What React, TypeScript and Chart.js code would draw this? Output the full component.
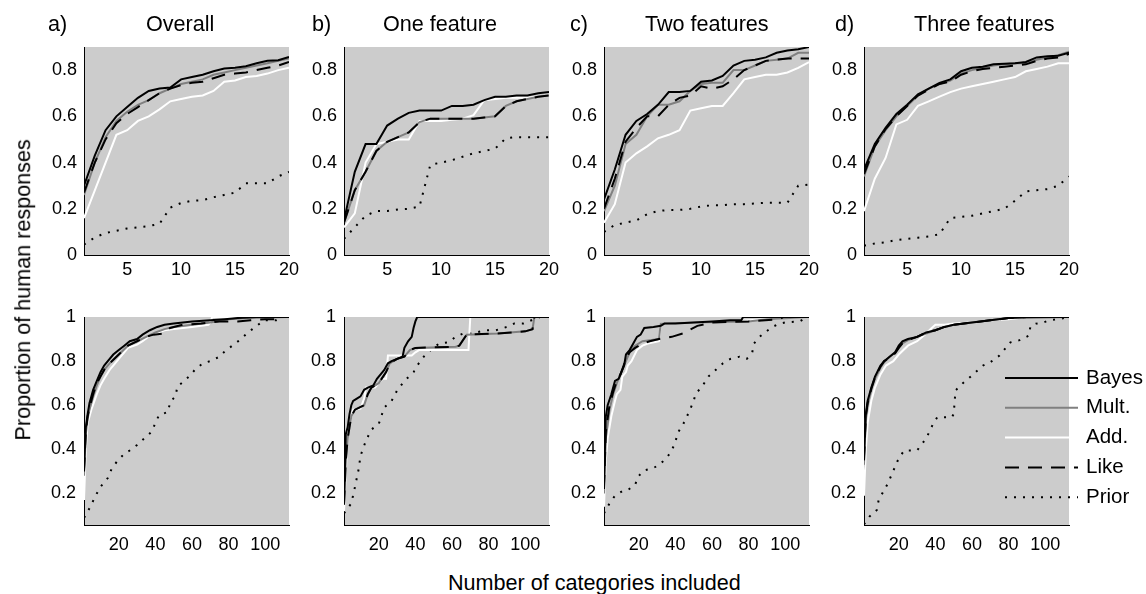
import React, { useEffect, useRef } from "react";
import { Chart, registerables } from "chart.js";
Chart.register(...registerables);

const FONT = "'Liberation Sans', Arial, Helvetica, sans-serif";

// ---------- data ----------
const X_TOP = [1, 2, 3, 4, 5, 6, 7, 8, 9, 10, 11, 12, 13, 14, 15, 16, 17, 18, 19, 20];

const TOP_A_BAYES = [0.30, 0.43, 0.54, 0.60, 0.64, 0.68, 0.71, 0.72, 0.725, 0.76, 0.77, 0.78, 0.795, 0.807, 0.81, 0.817, 0.83, 0.84, 0.843, 0.857];
const TOP_A_MULT = [0.26, 0.40, 0.51, 0.58, 0.62, 0.65, 0.67, 0.70, 0.72, 0.74, 0.75, 0.76, 0.78, 0.79, 0.80, 0.81, 0.82, 0.83, 0.84, 0.85];
const TOP_A_ADD = [0.16, 0.28, 0.40, 0.52, 0.54, 0.58, 0.60, 0.63, 0.665, 0.675, 0.685, 0.69, 0.71, 0.75, 0.755, 0.77, 0.775, 0.785, 0.80, 0.81];
const TOP_A_LIKE = [0.27, 0.40, 0.50, 0.57, 0.61, 0.64, 0.67, 0.70, 0.72, 0.735, 0.745, 0.75, 0.765, 0.78, 0.785, 0.79, 0.80, 0.81, 0.82, 0.835];
const TOP_A_PRIOR = [0.045, 0.076, 0.095, 0.105, 0.115, 0.12, 0.125, 0.135, 0.205, 0.225, 0.235, 0.237, 0.25, 0.26, 0.27, 0.31, 0.31, 0.31, 0.34, 0.36];

const TOP_B_BAYES = [0.15, 0.36, 0.48, 0.48, 0.56, 0.59, 0.615, 0.625, 0.625, 0.625, 0.645, 0.645, 0.65, 0.67, 0.685, 0.685, 0.69, 0.69, 0.70, 0.705];
const TOP_B_MULT = [0.14, 0.28, 0.36, 0.45, 0.49, 0.51, 0.53, 0.575, 0.59, 0.59, 0.59, 0.59, 0.59, 0.595, 0.60, 0.645, 0.665, 0.675, 0.685, 0.69];
const TOP_B_ADD = [0.12, 0.18, 0.40, 0.48, 0.49, 0.50, 0.50, 0.58, 0.58, 0.58, 0.585, 0.59, 0.605, 0.67, 0.675, 0.68, 0.68, 0.68, 0.685, 0.69];
const TOP_B_LIKE = [0.14, 0.28, 0.36, 0.45, 0.49, 0.51, 0.53, 0.575, 0.59, 0.59, 0.59, 0.59, 0.59, 0.595, 0.60, 0.645, 0.665, 0.675, 0.685, 0.69];
const TOP_B_PRIOR = [0.07, 0.12, 0.17, 0.19, 0.19, 0.197, 0.20, 0.21, 0.39, 0.40, 0.41, 0.425, 0.44, 0.45, 0.46, 0.505, 0.51, 0.51, 0.51, 0.51];

const TOP_C_BAYES = [0.24, 0.37, 0.52, 0.58, 0.61, 0.65, 0.705, 0.705, 0.71, 0.75, 0.755, 0.775, 0.82, 0.84, 0.845, 0.855, 0.875, 0.885, 0.89, 0.90];
const TOP_C_MULT = [0.19, 0.30, 0.48, 0.52, 0.60, 0.65, 0.65, 0.665, 0.71, 0.74, 0.745, 0.745, 0.80, 0.80, 0.82, 0.84, 0.845, 0.85, 0.875, 0.875];
const TOP_C_ADD = [0.14, 0.22, 0.40, 0.44, 0.47, 0.505, 0.52, 0.54, 0.625, 0.635, 0.645, 0.645, 0.70, 0.76, 0.77, 0.78, 0.78, 0.79, 0.81, 0.835];
const TOP_C_LIKE = [0.20, 0.33, 0.49, 0.55, 0.60, 0.60, 0.65, 0.68, 0.69, 0.73, 0.72, 0.73, 0.76, 0.80, 0.82, 0.84, 0.845, 0.85, 0.85, 0.85];
const TOP_C_PRIOR = [0.10, 0.13, 0.14, 0.15, 0.177, 0.19, 0.195, 0.195, 0.20, 0.21, 0.215, 0.215, 0.22, 0.22, 0.223, 0.226, 0.226, 0.226, 0.30, 0.305];

const TOP_D_BAYES = [0.37, 0.48, 0.55, 0.61, 0.65, 0.695, 0.72, 0.745, 0.76, 0.795, 0.81, 0.815, 0.825, 0.828, 0.83, 0.835, 0.855, 0.86, 0.862, 0.875];
const TOP_D_MULT = [0.34, 0.47, 0.54, 0.60, 0.645, 0.69, 0.72, 0.74, 0.755, 0.785, 0.80, 0.81, 0.82, 0.825, 0.83, 0.83, 0.845, 0.855, 0.865, 0.88];
const TOP_D_ADD = [0.19, 0.33, 0.42, 0.565, 0.585, 0.645, 0.665, 0.685, 0.705, 0.72, 0.73, 0.74, 0.75, 0.76, 0.77, 0.795, 0.805, 0.815, 0.83, 0.83];
const TOP_D_LIKE = [0.35, 0.47, 0.545, 0.60, 0.645, 0.69, 0.715, 0.74, 0.75, 0.78, 0.795, 0.805, 0.81, 0.815, 0.82, 0.825, 0.84, 0.85, 0.855, 0.87];
const TOP_D_PRIOR = [0.04, 0.05, 0.055, 0.065, 0.07, 0.075, 0.08, 0.09, 0.16, 0.165, 0.17, 0.18, 0.19, 0.20, 0.235, 0.275, 0.28, 0.285, 0.30, 0.34];

// bottom row: [number of categories, proportion]
const BOT_A_BAYES = [[1, 0.31], [2, 0.50], [3, 0.56], [4, 0.61], [5, 0.64], [6, 0.67], [8, 0.71], [10, 0.75], [12, 0.78], [14, 0.80], [17, 0.83], [20, 0.85], [23, 0.87], [26, 0.89], [30, 0.90], [33, 0.92], [37, 0.94], [41, 0.955], [45, 0.965], [50, 0.97], [55, 0.975], [60, 0.98], [70, 0.985], [78, 0.99], [85, 0.995], [95, 1.0], [113, 1.0]];
const BOT_A_MULT = [[1, 0.28], [2, 0.47], [3, 0.54], [4, 0.58], [6, 0.64], [8, 0.69], [10, 0.73], [12, 0.76], [15, 0.79], [20, 0.83], [25, 0.87], [30, 0.89], [35, 0.91], [40, 0.93], [45, 0.945], [50, 0.955], [60, 0.965], [70, 0.975], [80, 0.99], [90, 0.995], [113, 1.0]];
const BOT_A_ADD = [[1, 0.17], [2, 0.40], [3, 0.52], [5, 0.58], [8, 0.65], [10, 0.69], [12, 0.72], [15, 0.76], [18, 0.79], [20, 0.81], [23, 0.84], [25, 0.86], [30, 0.875], [33, 0.89], [36, 0.91], [40, 0.925], [45, 0.94], [50, 0.945], [60, 0.955], [69, 0.965], [70, 0.975], [71, 1.0], [113, 1.0]];
const BOT_A_LIKE = [[1, 0.30], [2, 0.48], [3, 0.55], [4, 0.59], [6, 0.65], [8, 0.70], [10, 0.73], [12, 0.76], [15, 0.79], [20, 0.83], [25, 0.87], [30, 0.89], [35, 0.91], [39, 0.92], [44, 0.925], [48, 0.95], [55, 0.965], [65, 0.97], [75, 0.98], [85, 0.98], [92, 0.985], [100, 0.99], [106, 0.99], [108, 1.0], [113, 1.0]];
const BOT_A_PRIOR = [[1, 0.09], [2, 0.10], [5, 0.15], [8, 0.20], [10, 0.23], [14, 0.27], [16, 0.31], [19, 0.345], [23, 0.38], [27, 0.40], [30, 0.42], [34, 0.45], [38, 0.48], [40, 0.52], [42, 0.555], [47, 0.57], [48, 0.615], [51, 0.64], [52, 0.685], [55, 0.705], [59, 0.735], [62, 0.765], [66, 0.79], [70, 0.80], [75, 0.82], [78, 0.845], [82, 0.87], [86, 0.895], [90, 0.925], [93, 0.945], [97, 0.97], [100, 0.985], [106, 0.985], [110, 1.0], [113, 1.0]];

const BOT_B_BAYES = [[1, 0.15], [2, 0.47], [3, 0.50], [4, 0.56], [5, 0.60], [6, 0.62], [8, 0.63], [10, 0.64], [12, 0.67], [14, 0.68], [17, 0.69], [19, 0.72], [21, 0.74], [23, 0.76], [25, 0.79], [27, 0.80], [30, 0.81], [33, 0.82], [34, 0.86], [36, 0.89], [38, 0.91], [39, 0.95], [40, 0.98], [41, 1.0], [113, 1.0]];
const BOT_B_MULT = [[1, 0.15], [2, 0.35], [3, 0.45], [5, 0.55], [7, 0.58], [12, 0.60], [14, 0.65], [16, 0.68], [20, 0.70], [24, 0.75], [26, 0.79], [30, 0.81], [34, 0.82], [37, 0.85], [40, 0.86], [62, 0.865], [64, 0.87], [68, 0.92], [85, 0.925], [100, 0.935], [104, 0.945], [105, 1.0], [113, 1.0]];
const BOT_B_ADD = [[1, 0.12], [2, 0.30], [3, 0.48], [4, 0.50], [5, 0.55], [6, 0.58], [10, 0.585], [12, 0.63], [13, 0.68], [18, 0.68], [20, 0.70], [22, 0.72], [24, 0.72], [25, 0.825], [38, 0.825], [40, 0.84], [42, 0.85], [69, 0.85], [70, 1.0], [113, 1.0]];
const BOT_B_LIKE = [[1, 0.15], [2, 0.35], [3, 0.45], [5, 0.55], [7, 0.58], [12, 0.60], [14, 0.65], [16, 0.68], [20, 0.70], [24, 0.75], [26, 0.79], [30, 0.81], [34, 0.82], [37, 0.85], [40, 0.86], [62, 0.865], [64, 0.87], [68, 0.92], [85, 0.925], [100, 0.935], [104, 0.945], [105, 1.0], [113, 1.0]];
const BOT_B_PRIOR = [[1, 0.11], [5, 0.155], [7, 0.23], [9, 0.31], [10, 0.37], [13, 0.44], [16, 0.49], [20, 0.515], [23, 0.59], [27, 0.62], [30, 0.667], [34, 0.71], [39, 0.75], [41, 0.78], [45, 0.825], [49, 0.855], [53, 0.88], [58, 0.885], [62, 0.91], [66, 0.925], [70, 0.925], [73, 0.93], [79, 0.94], [84, 0.94], [90, 0.955], [94, 0.97], [99, 0.97], [104, 0.987], [108, 1.0], [113, 1.0]];

const BOT_C_BAYES = [[1, 0.24], [2, 0.55], [3, 0.60], [5, 0.65], [7, 0.71], [9, 0.72], [10, 0.74], [12, 0.78], [13, 0.83], [15, 0.85], [17, 0.88], [19, 0.91], [21, 0.92], [23, 0.95], [28, 0.955], [32, 0.96], [34, 0.97], [40, 0.97], [50, 0.975], [60, 0.98], [70, 0.985], [76, 0.985], [77, 1.0], [113, 1.0]];
const BOT_C_MULT = [[1, 0.20], [2, 0.45], [4, 0.58], [6, 0.65], [8, 0.70], [10, 0.74], [13, 0.80], [15, 0.84], [18, 0.87], [22, 0.89], [26, 0.895], [31, 0.90], [32, 0.97], [50, 0.975], [80, 0.98], [90, 0.99], [113, 1.0]];
const BOT_C_ADD = [[1, 0.14], [2, 0.35], [3, 0.45], [5, 0.55], [7, 0.62], [8, 0.65], [10, 0.67], [11, 0.73], [13, 0.75], [14, 0.78], [16, 0.80], [19, 0.85], [22, 0.87], [25, 0.88], [31, 0.89], [32, 0.97], [50, 0.975], [70, 0.98], [80, 0.985], [90, 0.99], [100, 0.995], [113, 1.0]];
const BOT_C_LIKE = [[1, 0.22], [2, 0.48], [4, 0.60], [6, 0.66], [8, 0.71], [10, 0.74], [13, 0.81], [15, 0.84], [18, 0.86], [22, 0.88], [26, 0.89], [31, 0.90], [38, 0.91], [44, 0.925], [52, 0.96], [60, 0.975], [80, 0.98], [97, 0.99], [99, 1.0], [113, 1.0]];
const BOT_C_PRIOR = [[1, 0.11], [4, 0.155], [7, 0.19], [11, 0.21], [14, 0.215], [18, 0.24], [20, 0.28], [23, 0.305], [28, 0.315], [32, 0.335], [37, 0.38], [40, 0.43], [41, 0.47], [45, 0.525], [48, 0.58], [50, 0.62], [51, 0.65], [55, 0.69], [58, 0.73], [62, 0.76], [66, 0.79], [70, 0.81], [75, 0.82], [79, 0.81], [82, 0.84], [83, 0.88], [86, 0.91], [89, 0.93], [93, 0.955], [97, 0.97], [100, 0.975], [108, 0.98], [112, 1.0], [113, 1.0]];

const BOT_D_BAYES = [[1, 0.37], [2, 0.56], [3, 0.62], [5, 0.68], [7, 0.73], [10, 0.78], [12, 0.80], [15, 0.82], [18, 0.84], [20, 0.87], [22, 0.89], [25, 0.90], [30, 0.91], [35, 0.93], [40, 0.94], [45, 0.955], [50, 0.965], [60, 0.975], [70, 0.985], [80, 0.995], [90, 1.0], [113, 1.0]];
const BOT_D_MULT = [[1, 0.33], [2, 0.54], [3, 0.60], [5, 0.67], [7, 0.72], [10, 0.77], [12, 0.795], [15, 0.82], [18, 0.84], [20, 0.86], [22, 0.88], [25, 0.895], [30, 0.91], [35, 0.925], [40, 0.94], [45, 0.955], [50, 0.965], [60, 0.975], [70, 0.985], [80, 0.995], [90, 0.995], [113, 1.0]];
const BOT_D_ADD = [[1, 0.19], [2, 0.40], [3, 0.52], [5, 0.62], [7, 0.68], [10, 0.74], [13, 0.78], [17, 0.80], [20, 0.83], [25, 0.87], [30, 0.89], [35, 0.925], [38, 0.95], [40, 0.965], [45, 0.965], [50, 0.97], [60, 0.975], [70, 0.985], [80, 0.99], [90, 1.0], [113, 1.0]];
const BOT_D_LIKE = [[1, 0.35], [2, 0.55], [3, 0.61], [5, 0.675], [7, 0.725], [10, 0.775], [12, 0.80], [15, 0.815], [18, 0.835], [20, 0.86], [22, 0.88], [25, 0.895], [30, 0.91], [35, 0.93], [40, 0.94], [45, 0.955], [50, 0.965], [60, 0.975], [70, 0.985], [80, 0.995], [90, 1.0], [113, 1.0]];
const BOT_D_PRIOR = [[1, 0.06], [4, 0.095], [8, 0.125], [9, 0.17], [14, 0.245], [20, 0.36], [23, 0.395], [30, 0.395], [35, 0.45], [39, 0.52], [41, 0.545], [49, 0.545], [50, 0.56], [51, 0.667], [55, 0.70], [60, 0.735], [66, 0.78], [70, 0.795], [75, 0.825], [78, 0.855], [81, 0.885], [86, 0.895], [91, 0.915], [92, 0.96], [95, 0.97], [99, 0.975], [102, 0.985], [107, 0.99], [113, 1.0]];

const SERIES_NAMES = ["Bayes", "Mult.", "Add.", "Like", "Prior"];
const PANEL_LETTERS = ["a)", "b)", "c)", "d)"];
const PANEL_TITLES = ["Overall", "One feature", "Two features", "Three features"];
const TOP_X_TICKS = [5, 10, 15, 20];
const TOP_Y_TICKS = [0, 0.2, 0.4, 0.6, 0.8];
const BOT_X_TICKS = [20, 40, 60, 80, 100];
const BOT_Y_TICKS = [0.2, 0.4, 0.6, 0.8, 1];
const Y_LABEL = "Proportion of human responses";
const X_LABEL = "Number of categories included";

// ---------- styling / layout ----------
const SERIES_STYLE = [
  { color: "#000000", width: 2, dash: [] as number[], order: 0 },
  { color: "#808080", width: 2, dash: [] as number[], order: 2 },
  { color: "#ffffff", width: 2, dash: [] as number[], order: 3 },
  { color: "#000000", width: 2, dash: [14, 9], order: 1 },
  { color: "#000000", width: 2, dash: [2, 7], order: 4 },
];

const COL_LEFT = [84, 344, 604, 864];
const ROW_TOP = [47, 317];
const PLOT_W = 205;
const PLOT_H = 208;
const PAD_L = 60;
const PAD_T = 20;
const PAD_B = 40;

const topSeries = (arrs: number[][]) =>
  arrs.map((a) => a.map((y, i) => ({ x: X_TOP[i], y })));
const botSeries = (arrs: number[][][]) =>
  arrs.map((a) => a.map(([x, y]) => ({ x, y })));

const bgPlugin = {
  id: "axesBg",
  beforeDraw(chart: any) {
    const { ctx, chartArea: a } = chart;
    ctx.save();
    ctx.fillStyle = "#cccccc";
    ctx.fillRect(a.left, a.top, a.right - a.left, a.bottom - a.top);
    ctx.restore();
  },
};

const legendPlugin = {
  id: "matlabLegend",
  afterDraw(chart: any) {
    const { ctx, chartArea: a } = chart;
    ctx.save();
    chart.data.datasets.forEach((ds: any, i: number) => {
      const y = a.top + 61 + 29.8 * i;
      ctx.strokeStyle = ds.borderColor;
      ctx.lineWidth = ds.borderWidth;
      ctx.setLineDash(ds.borderDash || []);
      ctx.beginPath();
      ctx.moveTo(a.left + 141, y);
      ctx.lineTo(a.left + 214, y);
      ctx.stroke();
      ctx.setLineDash([]);
      ctx.fillStyle = "#000000";
      ctx.font = `20.5px ${FONT}`;
      ctx.textAlign = "left";
      ctx.textBaseline = "middle";
      ctx.fillText(ds.label, a.left + 222, y);
    });
    ctx.restore();
  },
};

type PanelProps = {
  col: number;
  row: number;
  series: { x: number; y: number }[][];
  padR: number;
  legend?: boolean;
};

function Panel({ col, row, series, padR, legend }: PanelProps) {
  const ref = useRef<HTMLCanvasElement>(null);
  const width = PAD_L + PLOT_W + padR;
  const height = PAD_T + PLOT_H + PAD_B;
  const left = COL_LEFT[col] - PAD_L;
  const top = ROW_TOP[row] - PAD_T;
  useEffect(() => {
    const isTop = row === 0;
    const xTicks = isTop ? TOP_X_TICKS : BOT_X_TICKS;
    const yTicks = isTop ? TOP_Y_TICKS : BOT_Y_TICKS;
    const chart = new Chart(ref.current as HTMLCanvasElement, {
      type: "line",
      data: {
        datasets: series.map((pts, i) => ({
          label: SERIES_NAMES[i],
          data: pts,
          borderColor: SERIES_STYLE[i].color,
          borderWidth: SERIES_STYLE[i].width,
          borderDash: SERIES_STYLE[i].dash,
          order: SERIES_STYLE[i].order,
          pointRadius: 0,
          pointHoverRadius: 0,
          tension: 0,
          fill: false,
        })),
      },
      options: {
        animation: false,
        responsive: false,
        maintainAspectRatio: false,
        devicePixelRatio: 1,
        events: [],
        layout: { padding: { left: 0, top: PAD_T, right: padR, bottom: 0 } },
        plugins: {
          legend: { display: false },
          tooltip: { enabled: false },
          title: { display: false },
        },
        scales: {
          x: {
            type: "linear",
            min: 1,
            max: isTop ? 20 : 113,
            afterFit: (s: any) => {
              s.height = PAD_B;
            },
            afterBuildTicks: (s: any) => {
              s.ticks = xTicks.map((v) => ({ value: v }));
            },
            grid: { display: false, drawTicks: false },
            border: { display: true, color: "#000000", width: 1 },
            ticks: {
              padding: isTop ? 4 : 9,
              color: "#000000",
              font: { family: FONT, size: 18 },
              maxRotation: 0,
              autoSkip: false,
              callback: (v: any) => String(v),
            },
          },
          y: {
            type: "linear",
            min: isTop ? 0 : 0.057,
            max: isTop ? 0.9 : 1,
            afterFit: (s: any) => {
              s.width = PAD_L;
            },
            afterBuildTicks: (s: any) => {
              s.ticks = yTicks.map((v) => ({ value: v }));
            },
            grid: { display: false, drawTicks: false },
            border: { display: true, color: "#000000", width: 1 },
            ticks: {
              padding: isTop ? 7 : 8,
              color: "#000000",
              font: { family: FONT, size: 18 },
              autoSkip: false,
              callback: (v: any) => String(v),
            },
          },
        },
      },
      plugins: legend ? [bgPlugin, legendPlugin] : [bgPlugin],
    } as any);
    return () => chart.destroy();
  }, []);
  return (
    <canvas
      ref={ref}
      width={width}
      height={height}
      style={{ position: "absolute", left, top, width, height }}
    />
  );
}

function Txt({ left, top, size, children }: { left: number; top: number; size: number; children: any }) {
  return (
    <div
      style={{
        position: "absolute",
        left,
        top,
        fontFamily: FONT,
        fontSize: size,
        lineHeight: `${size}px`,
        whiteSpace: "nowrap",
        color: "#000",
      }}
    >
      {children}
    </div>
  );
}

const LETTER_LEFT = [48, 312, 570, 835];
const TITLE_LEFT = [146, 383, 645, 914];

export default function App() {
  const top = [
    topSeries([TOP_A_BAYES, TOP_A_MULT, TOP_A_ADD, TOP_A_LIKE, TOP_A_PRIOR]),
    topSeries([TOP_B_BAYES, TOP_B_MULT, TOP_B_ADD, TOP_B_LIKE, TOP_B_PRIOR]),
    topSeries([TOP_C_BAYES, TOP_C_MULT, TOP_C_ADD, TOP_C_LIKE, TOP_C_PRIOR]),
    topSeries([TOP_D_BAYES, TOP_D_MULT, TOP_D_ADD, TOP_D_LIKE, TOP_D_PRIOR]),
  ];
  const bot = [
    botSeries([BOT_A_BAYES, BOT_A_MULT, BOT_A_ADD, BOT_A_LIKE, BOT_A_PRIOR]),
    botSeries([BOT_B_BAYES, BOT_B_MULT, BOT_B_ADD, BOT_B_LIKE, BOT_B_PRIOR]),
    botSeries([BOT_C_BAYES, BOT_C_MULT, BOT_C_ADD, BOT_C_LIKE, BOT_C_PRIOR]),
    botSeries([BOT_D_BAYES, BOT_D_MULT, BOT_D_ADD, BOT_D_LIKE, BOT_D_PRIOR]),
  ];
  return (
    <div style={{ position: "absolute", left: 0, top: 0, width: 1146, height: 594, background: "#ffffff", overflow: "hidden" }}>
      {top.map((s, i) => (
        <Panel key={"t" + i} col={i} row={0} series={s} padR={20} />
      ))}
      {bot.map((s, i) => (
        <Panel key={"b" + i} col={i} row={1} series={s} padR={i === 3 ? 77 : 20} legend={i === 3} />
      ))}
      {PANEL_LETTERS.map((l, i) => (
        <Txt key={"l" + i} left={LETTER_LEFT[i]} top={13.2} size={21.6}>
          {l}
        </Txt>
      ))}
      {PANEL_TITLES.map((t, i) => (
        <Txt key={"ti" + i} left={TITLE_LEFT[i]} top={13.2} size={21.6}>
          {t}
        </Txt>
      ))}
      <Txt left={448} top={571.7} size={21.6}>
        {X_LABEL}
      </Txt>
      <div
        style={{
          position: "absolute",
          left: 23 - 200,
          top: 290 - 10.8,
          width: 400,
          height: 21.6,
          fontFamily: FONT,
          fontSize: 21.6,
          lineHeight: "21.6px",
          textAlign: "center",
          whiteSpace: "nowrap",
          transform: "rotate(-90deg)",
          color: "#000",
        }}
      >
        {Y_LABEL}
      </div>
    </div>
  );
}
